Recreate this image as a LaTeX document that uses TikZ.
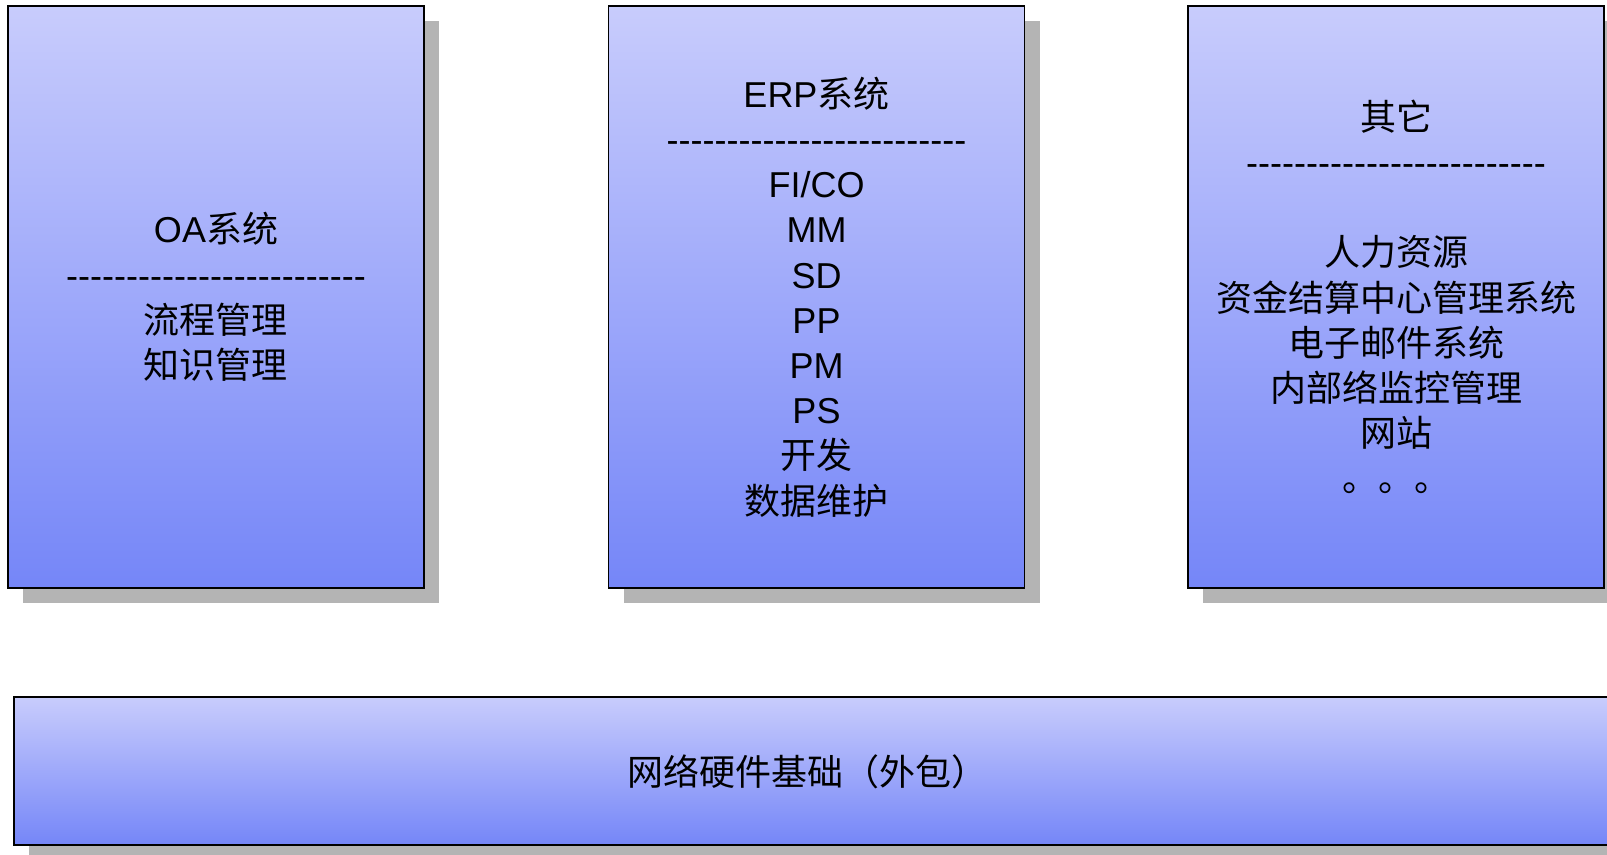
\documentclass[tikz,border=0pt]{standalone}
\usepackage{fontspec}
\setmainfont{Liberation Sans}
\newfontfamily\latin{Liberation Sans}
\newfontfamily\cjk{Noto Sans CJK SC}
\usetikzlibrary{shadows}
\definecolor{boxtop}{RGB}{200,204,252}
\definecolor{boxbottom}{RGB}{117,134,248}
\definecolor{shadowgray}{RGB}{180,180,180}
\newcommand\dashrow{{\latin\foreach\i in {1,...,25}{-}}}
\tikzset{
  sysbox/.style={draw=black, line width=0.9pt, top color=boxtop, bottom color=boxbottom,
    drop shadow={shadow xshift=7.7pt, shadow yshift=-7.7pt, fill=shadowgray, opacity=1},
    minimum width=208pt, minimum height=291pt, inner sep=0pt, align=center,
    font=\fontsize{18}{22.6}\cjk},
  boxlabel/.style={font=\fontsize{18}{22.6}\cjk}
}
\begin{document}
\begin{tikzpicture}[x=0.5pt,y=-0.5pt]
      \useasboundingbox (0,0) rectangle (1607,855);
      \clip (0,0) rectangle (1607,855);
      \draw
        (216,297) node[sysbox] (oa){{\latin OA}系统\\ \dashrow\\ 流程管理\\ 知识管理}
        (816.5,297) node[sysbox] (erp){{\latin ERP}系统\\ \dashrow\\
          {\latin FI/CO}\\ {\latin MM}\\ {\latin SD}\\ {\latin PP}\\ {\latin PM}\\ {\latin PS}\\
          开发\\ 数据维护}
        (1396,297) node[sysbox] (other){其它\\ \dashrow\\[22.6pt] 人力资源\\ 资金结算中心管理系统\\
          电子邮件系统\\ 内部络监控管理\\ 网站\\ 。。。}
        (827,771) node[sysbox, minimum width=813pt, minimum height=74pt] (net){}
        (807,772) node[boxlabel] (netlabel){网络硬件基础（外包）};
\end{tikzpicture}
\end{document}
